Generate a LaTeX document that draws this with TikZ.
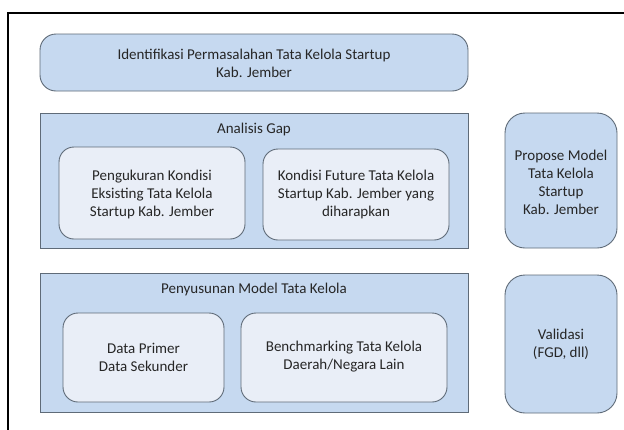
\documentclass[tikz,border=0pt]{standalone}
\usepackage{fontspec}
\setmainfont{Carlito}
\definecolor{outerfill}{HTML}{C6D9F0}
\definecolor{innerfill}{HTML}{E9EEF7}
\definecolor{edge}{HTML}{5F6B78}
\begin{document}
\begin{tikzpicture}[x=1pt,y=-1pt,
  blockbase/.style={draw=edge, line width=0.9pt, inner sep=0pt, outer sep=0pt},
  panel/.style={blockbase, fill=outerfill},
  roundpanel/.style={blockbase, fill=outerfill, rounded corners=16pt},
  innerbox/.style={blockbase, fill=innerfill, rounded corners=15pt},
  label/.style={align=center, font=\fontsize{15}{18}\selectfont, text=black!85}
]
\useasboundingbox (0,0) rectangle (624,429);
\fill[white] (0,0) rectangle (624,429);
% outer frame
\draw[line width=2.4pt, line cap=rect] (8,429) -- (8,13) -- (624,13);

% top block
\draw[roundpanel] (40,34) rectangle (468,91);
\node[label] (ident) at (254,63) {Identifikasi Permasalahan Tata Kelola Startup\\Kab. Jember};

% gap analysis
\draw[panel] (40,113) rectangle (468,248);
\node[label] (gap) at (254,129) {Analisis Gap};
\draw[innerbox] (59,147) rectangle (245,239);
\node[label] (exist) at (152,194) {Pengukuran Kondisi\\Eksisting Tata Kelola\\Startup Kab. Jember};
\draw[innerbox] (263,149) rectangle (449,240);
\node[label] (future) at (356,194) {Kondisi Future Tata Kelola\\Startup Kab. Jember yang\\diharapkan};

% proposal
\draw[roundpanel, rounded corners=20pt] (505,113) rectangle (617,248);
\node[label] (propose) at (561,182) {Propose Model\\Tata Kelola\\Startup\\Kab. Jember};

% model building
\draw[panel] (40,273) rectangle (468,412);
\node[label] (model) at (254,289) {Penyusunan Model Tata Kelola};
\draw[innerbox] (63,313) rectangle (224,402);
\node[label] (data) at (143.5,357) {Data Primer\\Data Sekunder};
\draw[innerbox] (241,313) rectangle (447,402);
\node[label] (bench) at (344,357) {Benchmarking Tata Kelola\\Daerah/Negara Lain};

% validation
\draw[roundpanel, rounded corners=20pt] (505,275) rectangle (617,413);
\node[label] (valid) at (561,344) {Validasi\\(FGD, dll)};
\end{tikzpicture}
\end{document}
